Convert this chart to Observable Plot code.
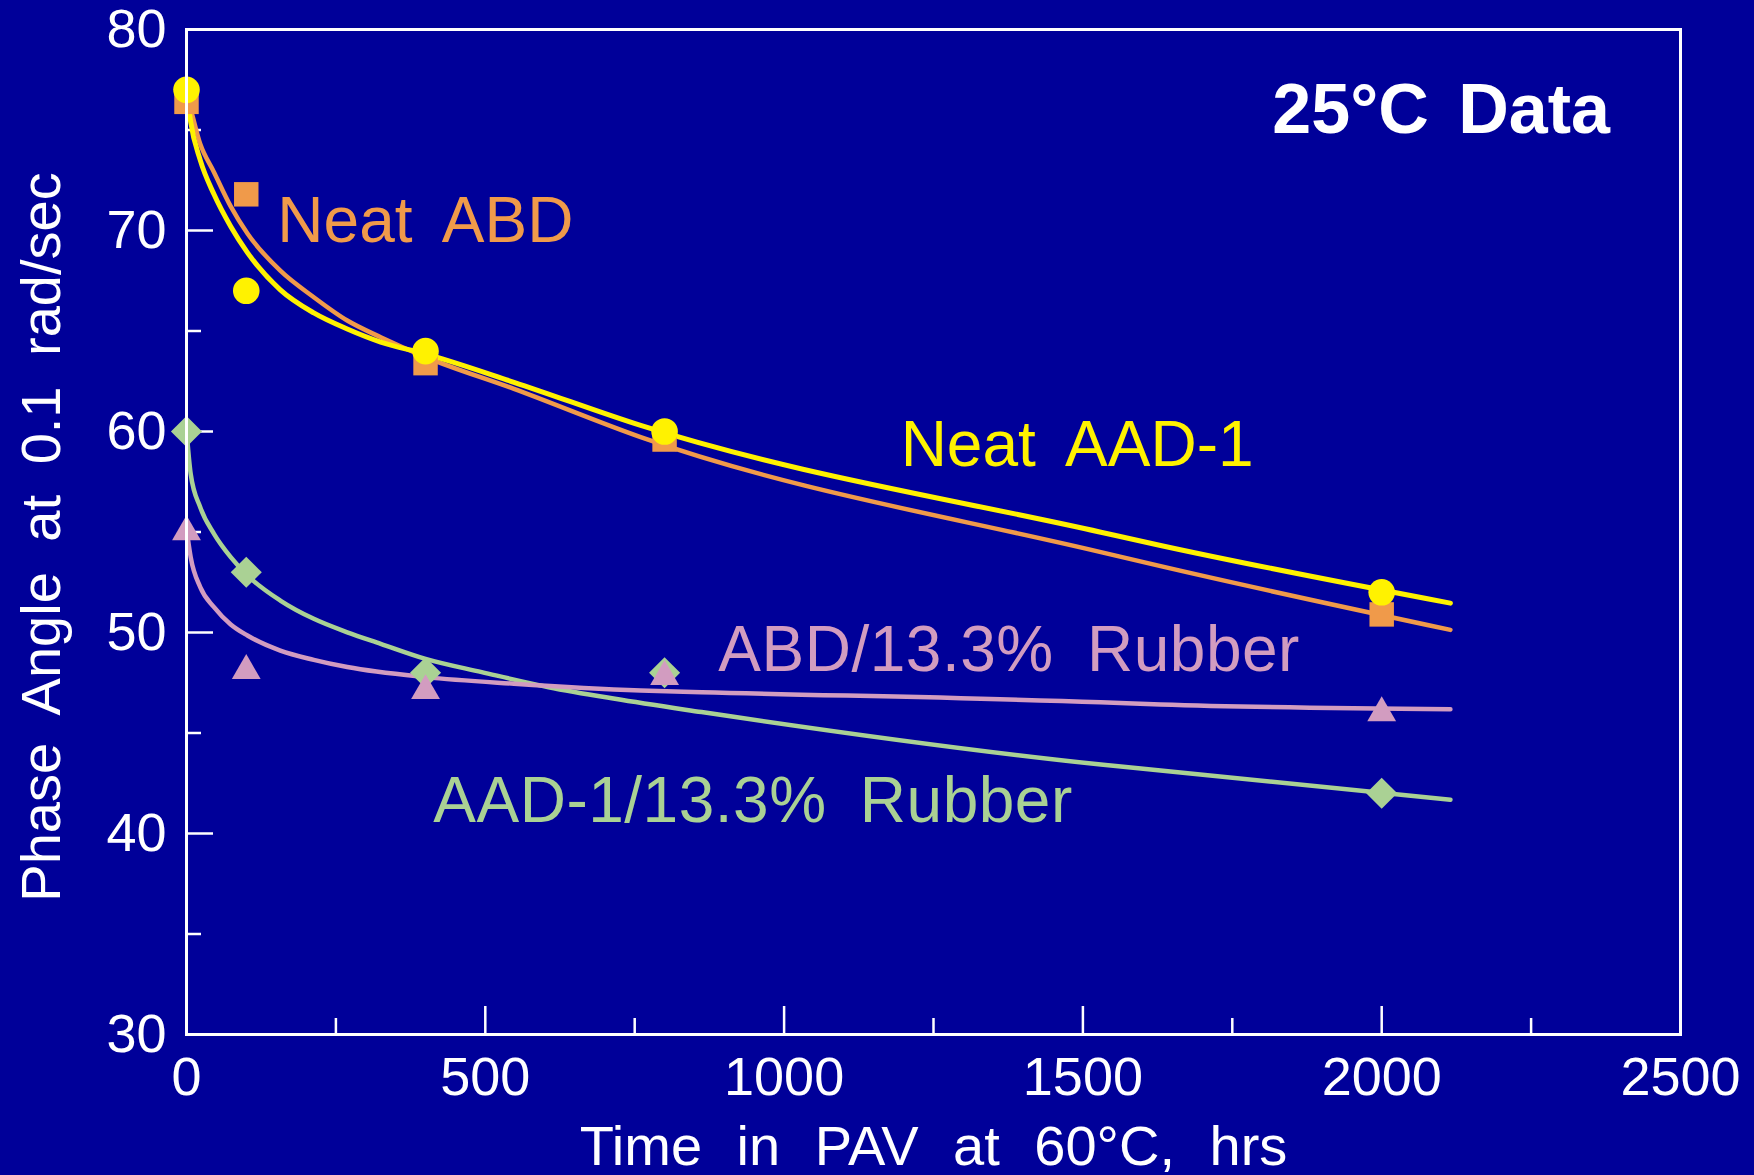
<!DOCTYPE html>
<html>
<head>
<meta charset="utf-8">
<script src="https://cdn.jsdelivr.net/npm/d3@7"></script>
<script src="https://cdn.jsdelivr.net/npm/@observablehq/plot@0.6"></script>
<style>
  html, body { margin: 0; padding: 0; background: #000099; }
  svg text { word-spacing: 15px; }
</style>
</head>
<body>
<div id="chart"></div>
<script>
// ---- Measured data (PAV aging time in hours vs. phase angle in degrees) ----
const hours = [0, 100, 400, 800, 2000];
const neatAAD1 = [77.0, 67.0, 64.0, 60.0, 52.0];
const neatABD = [76.4, 71.8, 63.4, 59.6, 50.9];
const aadRubber = [60.0, 53.0, 48.0, 48.0, 42.0];
const abdRubber = [55.0, 48.1, 47.1, 47.8, 46.0];

// ---- Fitted curves ----
const fitAAD1X = [0, 7, 23, 46, 74, 102, 157, 213, 269, 325, 400, 548, 760, 1530, 1630, 2115];
const fitAAD1Y = [77.05, 75.4, 73.5, 71.8, 70.2, 68.9, 67.05, 65.9, 65.1, 64.45, 63.86, 62.45, 60.3, 54.99, 54.33, 51.46];
const fitABDX = [0, 4, 23, 46, 74, 102, 157, 213, 269, 325, 400, 548, 760, 1530, 1630, 2115];
const fitABDY = [76.6, 76.3, 74.3, 72.9, 71.2, 69.85, 68.0, 66.68, 65.52, 64.69, 63.70, 62.12, 59.72, 54.0, 53.3, 50.13];
const fitAADRX = [0, 7, 23, 46, 74, 102, 157, 213, 269, 325, 400, 494, 606, 717, 862, 1530, 1630, 2115];
const fitAADRY = [60.08, 57.89, 56.23, 54.91, 53.75, 52.84, 51.59, 50.68, 50.01, 49.44, 48.69, 48.03, 47.28, 46.70, 46.04, 43.43, 43.13, 41.68];
const fitABDRX = [0, 7, 23, 46, 74, 102, 157, 213, 269, 400, 548, 760, 862, 1530, 1630, 2115];
const fitABDRY = [55.16, 53.75, 52.26, 51.26, 50.40, 49.85, 49.10, 48.64, 48.28, 47.78, 47.45, 47.11, 47.03, 46.53, 46.42, 46.18];

// ---- Axis ticks ----
const xMajor = [0, 500, 1000, 1500, 2000, 2500];
const xMinor = [250, 750, 1250, 1750, 2250];
const yMajor = [30, 40, 50, 60, 70, 80];
const yMinor = [35, 45, 55, 65, 75];

// ---- Text ----
const xTitle = "Time in PAV at 60°C, hrs";
const yTitle = "Phase Angle at 0.1 rad/sec";
const panelTitle = "25°C Data";
const seriesNames = ["Neat ABD", "Neat AAD-1", "ABD/13.3% Rubber", "AAD-1/13.3% Rubber"];

const zip = (xs, ys) => xs.map((x, i) => ({x, y: ys[i]}));

const W = 1754, H = 1175;
const mL = 186, mR = 74, mT = 29, mB = 141;
const plotW = W - mL - mR, plotH = H - mT - mB;

const C = {
  bg: "#000099",
  yellow: "#FFF200",
  orange: "#F09A4A",
  pink: "#D29CC0",
  green: "#AAD194",
  white: "#FFFFFF"
};

const chart = Plot.plot({
  width: W,
  height: H,
  marginLeft: mL,
  marginRight: mR,
  marginTop: mT,
  marginBottom: mB,
  style: {
    background: C.bg,
    color: C.white,
    fontFamily: "'Liberation Sans', Arial, Helvetica, sans-serif",
    fontSize: "54px"
  },
  x: {domain: [0, 2500], range: [mL, W - mR]},
  y: {domain: [30, 80], range: [H - mB, mT]},
  marks: [
    // inward ticks
    Plot.ruleX(xMajor, {x: d => d, stroke: C.white, strokeWidth: 2.5, insetTop: plotH - 28}),
    Plot.ruleX(xMinor, {x: d => d, stroke: C.white, strokeWidth: 2.5, insetTop: plotH - 16}),
    Plot.ruleY(yMajor, {y: d => d, stroke: C.white, strokeWidth: 2.5, insetRight: plotW - 27}),
    Plot.ruleY(yMinor, {y: d => d, stroke: C.white, strokeWidth: 2.5, insetRight: plotW - 15}),
    // tick labels
    Plot.axisX(xMajor, {tickSize: 0, tickPadding: 22, label: null, fill: C.white, fontSize: 54, tickFormat: d => String(d)}),
    Plot.axisY(yMajor, {tickSize: 0, tickPadding: 20, label: null, fill: C.white, fontSize: 54, tickFormat: d => String(d)}),
    // axis titles
    Plot.text([xTitle], {text: d => d, frameAnchor: "bottom", textAnchor: "middle", dy: 130, lineAnchor: "bottom", fill: C.white, fontSize: 56}),
    Plot.text([yTitle], {text: d => d, frameAnchor: "left", textAnchor: "middle", rotate: -90, dx: -127, dy: 5, lineAnchor: "bottom", fill: C.white, fontSize: 56}),
    // fitted curves
    Plot.line(zip(fitAADRX, fitAADRY), {x: "x", y: "y", stroke: C.green, strokeWidth: 4.5, curve: "monotone-x"}),
    Plot.line(zip(fitABDX, fitABDY), {x: "x", y: "y", stroke: C.orange, strokeWidth: 4.5, curve: "monotone-x"}),
    Plot.line(zip(fitABDRX, fitABDRY), {x: "x", y: "y", stroke: C.pink, strokeWidth: 4.5, curve: "monotone-x"}),
    Plot.line(zip(fitAAD1X, fitAAD1Y), {x: "x", y: "y", stroke: C.yellow, strokeWidth: 5, curve: "monotone-x"}),
    // measured points
    Plot.dot(zip(hours, aadRubber), {x: "x", y: "y", symbol: "diamond2", r: 14, fill: C.green}),
    Plot.dot(zip(hours, neatABD), {x: "x", y: "y", symbol: "square", r: 13.8, fill: C.orange}),
    Plot.dot(zip(hours, abdRubber), {x: "x", y: "y", symbol: "triangle", r: 10.7, fill: C.pink}),
    Plot.dot(zip(hours, neatAAD1), {x: "x", y: "y", symbol: "circle", r: 13.3, fill: C.yellow}),
    // frame
    Plot.frame({stroke: C.white, strokeWidth: 3}),
    // annotations
    Plot.text([panelTitle], {text: d => d, x: 1817, y: 74.83, textAnchor: "start", lineAnchor: "bottom", fill: C.white, fontSize: 70, fontWeight: "bold"}),
    Plot.text([seriesNames[0]], {text: d => d, x: 152, y: 69.42, textAnchor: "start", lineAnchor: "bottom", fill: C.orange, fontSize: 64}),
    Plot.text([seriesNames[1]], {text: d => d, x: 1195, y: 58.26, textAnchor: "start", lineAnchor: "bottom", fill: C.yellow, fontSize: 64}),
    Plot.text([seriesNames[2]], {text: d => d, x: 890, y: 48.06, textAnchor: "start", lineAnchor: "bottom", fill: C.pink, fontSize: 64}),
    Plot.text([seriesNames[3]], {text: d => d, x: 413, y: 40.56, textAnchor: "start", lineAnchor: "bottom", fill: C.green, fontSize: 64})
  ]
});

// typographic touches to match the original's wider word/letter spacing
const texts = d3.select(chart).selectAll("text");
texts.filter(function() { return /Rubber/.test(this.textContent); }).style("letter-spacing", "0.5px");
texts.filter(function() { return this.textContent === xTitle; }).style("word-spacing", "19px");
texts.filter(function() { return this.textContent === panelTitle; }).style("word-spacing", "10px");

document.getElementById("chart").appendChild(chart);
</script>
</body>
</html>
